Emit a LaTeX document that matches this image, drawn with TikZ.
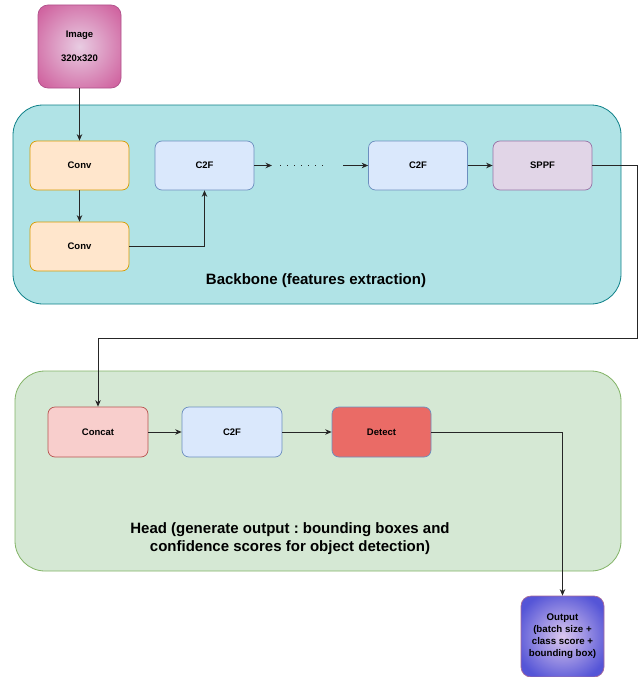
\documentclass[tikz,border=0pt]{standalone}
\usepackage{fontspec}
\setmainfont{Liberation Sans}
\usetikzlibrary{arrows.meta}
\definecolor{bbfill}{HTML}{B0E3E6}
\definecolor{bbdraw}{HTML}{0E8088}
\definecolor{hdfill}{HTML}{D5E8D4}
\definecolor{hddraw}{HTML}{82B366}
\definecolor{convfill}{HTML}{FFE6CC}
\definecolor{convdraw}{HTML}{D79B00}
\definecolor{cffill}{HTML}{DAE8FC}
\definecolor{cfdraw}{HTML}{6C8EBF}
\definecolor{spfill}{HTML}{E1D5E7}
\definecolor{spdraw}{HTML}{9673A6}
\definecolor{ccfill}{HTML}{F8CECC}
\definecolor{ccdraw}{HTML}{B85450}
\definecolor{dtfill}{HTML}{EA6B66}
\definecolor{imgout}{HTML}{D064A0}
\definecolor{imgin}{HTML}{E8CCE2}
\definecolor{imgdraw}{HTML}{B0508A}
\definecolor{outout}{HTML}{5555D7}
\definecolor{outin}{HTML}{DCC8EE}
\definecolor{outdraw}{HTML}{A86A9A}
\pgfdeclareradialshading{imgshade}{\pgfpoint{0bp}{0bp}}{color(0bp)=(imgin); color(32bp)=(imgout); color(72bp)=(imgout)}
\pgfdeclareradialshading{outshade}{\pgfpoint{0bp}{0bp}}{color(0bp)=(outin); color(29bp)=(outout); color(72bp)=(outout)}
\tikzset{
  blk/.style={rounded corners=7pt, minimum width=99pt, minimum height=49pt, inner sep=0pt, font=\fontsize{9.5}{11}\selectfont\bfseries, line width=0.7pt},
  cont/.style={rounded corners=30pt, line width=0.8pt},
  arr/.style={-{Stealth[length=6.5pt,width=5.5pt]}, line width=0.8pt, draw=black!85},
}
\begin{document}
\frenchspacing
\begin{tikzpicture}[x=1pt,y=-1pt]
\useasboundingbox (0,0) rectangle (644,677);
% containers
\draw[cont, fill=bbfill, draw=bbdraw] (13,105) rectangle (621,304);
\draw[cont, fill=hdfill, draw=hddraw] (15,371) rectangle (621,571);
\node[font=\fontsize{15}{17}\selectfont\bfseries] (bbl) at (316,281) {Backbone (features extraction)};
\node[font=\fontsize{15}{18}\selectfont\bfseries, align=center] (hdl) at (290,539) {Head (generate output : bounding boxes and\\confidence scores for object detection)};
% image
\node[blk, minimum width=83pt, minimum height=83pt, rounded corners=10pt, shading=imgshade, draw=imgdraw, align=center, font=\fontsize{9.5}{24}\selectfont\bfseries] (img) at (79.5,46.5) {\raisebox{-2pt}{Image}\\\raisebox{-2pt}{320x320}};
% backbone nodes
\node[blk, fill=convfill, draw=convdraw] (conv1) at (79.5,165.5) {Conv};
\node[blk, fill=convfill, draw=convdraw] (conv2) at (79.5,246.5) {Conv};
\node[blk, fill=cffill, draw=cfdraw] (c2f1) at (204.5,165.5) {C2F};
\node[blk, fill=cffill, draw=cfdraw] (c2f2) at (418,165.5) {C2F};
\node[blk, fill=spfill, draw=spdraw] (sppf) at (542.5,165.5) {SPPF};
\coordinate (d1) at (272,165.5);
\coordinate (d2) at (280,165.5);
\coordinate (d3) at (329,165.5);
\coordinate (d4) at (343,165.5);
% head nodes
\node[blk, fill=ccfill, draw=ccdraw, minimum width=100pt, minimum height=50pt] (concat) at (98,432) {Concat};
\node[blk, fill=cffill, draw=cfdraw, minimum width=100pt, minimum height=50pt] (c2f3) at (232,432) {C2F};
\node[blk, fill=dtfill, draw=cfdraw, minimum width=99pt, minimum height=50pt] (detect) at (381.5,432) {Detect};
\node[blk, minimum width=83pt, minimum height=81pt, rounded corners=10pt, shading=outshade, draw=outdraw, align=center, font=\fontsize{9.7}{12}\selectfont\bfseries] (output) at (562.5,636.5) {Output\\(batch size +\\class score +\\bounding box)};
% connectors
\draw[arr] (img) -- (conv1);
\draw[arr] (conv1) -- (conv2);
\draw[arr] (conv2.east) -| (c2f1.south);
\draw[arr] (c2f1.east) -- (d1);
\draw[line width=1.1pt, dash pattern=on 1pt off 6pt, draw=black!85] (d2) -- (d3);
\draw[arr] (d4) -- (c2f2.west);
\draw[arr] (c2f2) -- (sppf);
\coordinate (r1) at (637,165.5);
\coordinate (r2) at (637,338);
\draw[arr] (sppf.east) -- (r1) -- (r2) -| (concat.north);
\draw[arr] (concat) -- (c2f3);
\draw[arr] (c2f3) -- (detect);
\draw[arr] (detect.east) -| (output.north);
\end{tikzpicture}
\end{document}
